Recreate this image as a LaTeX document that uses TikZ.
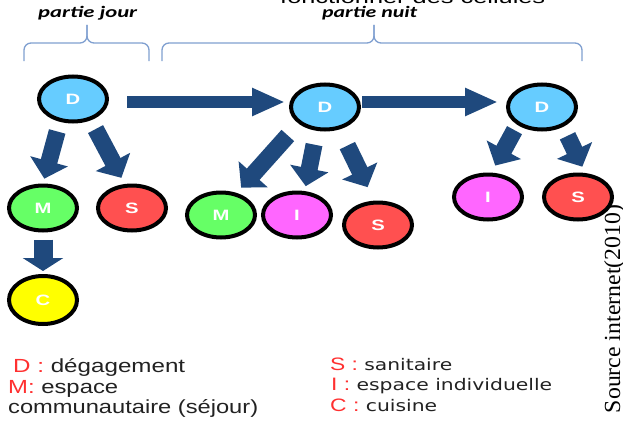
\documentclass[tikz,border=0pt]{standalone}
\usepackage{fontspec}
\setmainfont{Liberation Sans}
\newfontfamily\seriffam{Liberation Serif}
\newfontfamily\dejavufam{DejaVu Sans}
\newfontfamily\carlfam{Carlito}
\usetikzlibrary{shapes.geometric,arrows.meta,calc}
\newcommand{\wbox}[2]{\resizebox{#1}{\height}{#2}}
\definecolor{dcol}{HTML}{66CCFF}
\definecolor{mcol}{HTML}{66FF66}
\definecolor{scol}{HTML}{FF5050}
\definecolor{icol}{HTML}{FF66FF}
\definecolor{ccol}{HTML}{FFFF00}
\definecolor{arrcol}{HTML}{1F497D}
\definecolor{bracecol}{HTML}{7F9FD0}
\definecolor{lred}{HTML}{FF3030}
\definecolor{ltext}{HTML}{222222}
\begin{document}
\begin{tikzpicture}[x=1pt,y=-1pt,
  room/.style={ellipse, draw=black, line width=4pt, minimum width=68pt, minimum height=45pt,
    inner sep=0pt, text=white, font=\fontsize{15pt}{15pt}\selectfont\bfseries},
  droom/.style={room, fill=dcol},
  mroom/.style={room, fill=mcol},
  sroom/.style={room, fill=scol},
  iroom/.style={room, fill=icol},
  croom/.style={room, fill=ccol, minimum height=48pt},
  downarrow/.style={draw=arrcol, line width=17pt, -{Triangle[width=38pt,length=18pt]}},
  vertarrow/.style={draw=arrcol, line width=19pt, -{Triangle[width=40pt,length=13pt]}},
  sidearrow/.style={draw=arrcol, line width=12pt, -{Triangle[width=26pt,length=33pt]}},
  brace/.style={draw=bracecol, line width=1.3pt, rounded corners=7pt},
  legend/.style={anchor=base west, inner sep=0pt, text=ltext, font=\fontsize{19pt}{20pt}\selectfont},
  legendr/.style={anchor=base west, inner sep=0pt, text=ltext, font=\fontsize{18pt}{20pt}\selectfont},
  title/.style={anchor=base west, inner sep=0pt, text=black, font=\carlfam\fontsize{16pt}{16pt}\selectfont\bfseries\itshape}
]
\useasboundingbox (0,0) rectangle (623,420);
\clip (0,0) rectangle (623,420);

% top cut text
\node[anchor=base west, inner sep=0pt, font=\fontsize{18pt}{18pt}\selectfont] (toptxt) at (280,4) {\wbox{265pt}{fonctionner des cellules}};

% titles
\node[title] (tjour) at (38,18) {\wbox{99pt}{partie jour}};
\node[title] (tnuit) at (322,18) {\wbox{95pt}{partie nuit}};

% braces
\draw[brace] (24,61) -- (24,43) -- (87,43) -- (87,25);
\draw[brace] (87,25) -- (87,43) -- (149,43) -- (149,61);
\draw[brace] (162,61) -- (162,43) -- (374,43) -- (374,25);
\draw[brace] (374,25) -- (374,43) -- (582,43) -- (582,61);

% rooms
\node[droom] (D1) at (73,99) {\scalebox{1.35}[1]{D}};
\node[droom] (D2) at (325,107) {\scalebox{1.35}[1]{D}};
\node[droom] (D3) at (542,107) {\scalebox{1.35}[1]{D}};
\node[mroom] (M1) at (43,208) {\scalebox{1.35}[1]{M}};
\node[sroom] (S1) at (132,208) {\scalebox{1.35}[1]{S}};
\node[mroom] (M2) at (221,215) {\scalebox{1.35}[1]{M}};
\node[iroom] (I2) at (297,215) {\scalebox{1.35}[1]{I}};
\node[sroom] (S2) at (378,225) {\scalebox{1.35}[1]{S}};
\node[iroom] (I3) at (488,197) {\scalebox{1.35}[1]{I}};
\node[sroom] (S3) at (578,197) {\scalebox{1.35}[1]{S}};
\node[croom] (C) at (43,300) {\scalebox{1.35}[1]{C}};

% arrows
\draw[sidearrow, shorten <=18pt, shorten >=4pt] ([yshift=-3pt]D1.east) -- ([yshift=-3pt]D1.east -| D2.west);
\draw[sidearrow, shorten <=1pt, shorten >=8pt] ([yshift=5pt]D2.east) -- ([yshift=5pt]D2.east -| D3.west);
\draw[downarrow, shorten <=10pt, shorten >=5pt] (D1.240) -- (M1.north);
\draw[downarrow, shorten <=10pt, shorten >=7pt] (D1.310) -- (S1.107);
\draw[vertarrow, shorten <=7pt, shorten >=3pt] (M1.south) -- (C.north);
\draw[downarrow, shorten <=16pt, shorten >=7pt] (D2.212) -- (M2.55);
\draw[downarrow, shorten <=14pt, shorten >=5pt] (D2.251) -- (I2.72);
\draw[downarrow, shorten <=18pt, shorten >=15pt] (D2.303) -- (S2.99);
\draw[downarrow, shorten <=6pt, shorten >=8pt] (D3.216) -- (I3.82);
\draw[downarrow, shorten <=10pt, shorten >=7pt] (D3.317) -- (S3.73);

% legend
\node[legend] (L1) at (13,372) {\wbox{172pt}{\textcolor{lred}{D :} dégagement}};
\node[legend] (L2) at (8,393) {\wbox{110pt}{\textcolor{lred}{M:} espace}};
\node[legend] (L3) at (8,413) {\wbox{250pt}{communautaire (séjour)}};
\node[legendr] (R1) at (330,370) {\wbox{122pt}{\textcolor{lred}{S :} {\dejavufam\fontsize{16pt}{16pt}\selectfont sanitaire}}};
\node[legendr] (R2) at (331,390) {\wbox{221pt}{\textcolor{lred}{I :} {\dejavufam\fontsize{16pt}{16pt}\selectfont espace individuelle}}};
\node[legendr] (R3) at (330,411.5) {\wbox{107pt}{\textcolor{lred}{C :} {\dejavufam\fontsize{16pt}{16pt}\selectfont cuisine}}};

% source
\node[anchor=base, inner sep=0pt, rotate=90, font=\seriffam\fontsize{23pt}{23pt}\selectfont] (src) at (620,309) {\wbox{208pt}{Source internet(2010)}};
\end{tikzpicture}
\end{document}
